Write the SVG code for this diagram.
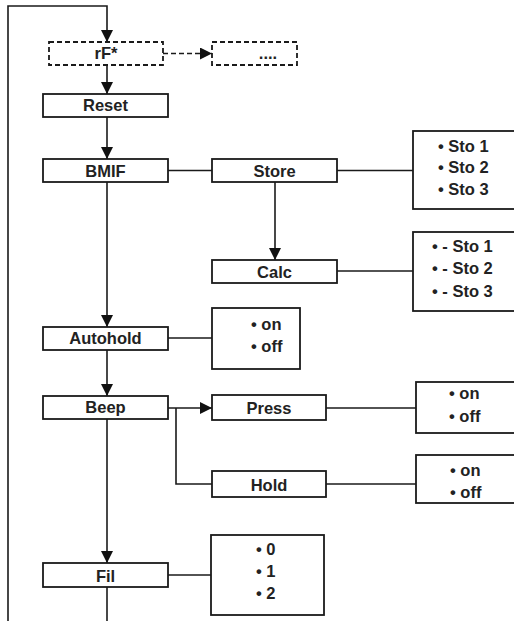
<svg xmlns="http://www.w3.org/2000/svg" width="514" height="621" viewBox="0 0 514 621">
<defs>
<style>
.box{fill:#fff;stroke:#1a1a1a;stroke-width:1.8}
.dbox{fill:#fff;stroke:#1a1a1a;stroke-width:1.8;stroke-dasharray:5 3}
.ln{fill:none;stroke:#1a1a1a;stroke-width:1.6}
.dln{fill:none;stroke:#1a1a1a;stroke-width:1.6;stroke-dasharray:5 3}
text{font-family:"Liberation Sans",Arial,sans-serif;font-weight:bold;font-size:16.5px;fill:#222}
.c{text-anchor:middle}
</style>
<marker id="ah" markerUnits="userSpaceOnUse" markerWidth="12" markerHeight="12" viewBox="0 0 12 12" refX="12" refY="6" orient="auto">
<path d="M0,0 L12,6 L0,12 Z" fill="#111"/>
</marker>
</defs>
<g id="connectors">
<path class="ln" d="M107,621 V587"/>
<path class="ln" d="M8,621 V6 H107 V42" marker-end="url(#ah)"/>
<path class="dln" d="M163,53.5 H212" marker-end="url(#ah)"/>
<path class="ln" d="M107,65 V94" marker-end="url(#ah)"/>
<path class="ln" d="M107,117 V159" marker-end="url(#ah)"/>
<path class="ln" d="M168,170.5 H212"/>
<path class="ln" d="M337,170.5 H413"/>
<path class="ln" d="M275,182 V260" marker-end="url(#ah)"/>
<path class="ln" d="M337,271 H413"/>
<path class="ln" d="M107,182 V327" marker-end="url(#ah)"/>
<path class="ln" d="M168,338 H212"/>
<path class="ln" d="M107,350 V396" marker-end="url(#ah)"/>
<path class="ln" d="M168,408 H212" marker-end="url(#ah)"/>
<path class="ln" d="M176,408 V484 H212"/>
<path class="ln" d="M326,408 H416"/>
<path class="ln" d="M326,484 H416"/>
<path class="ln" d="M107,419 V563" marker-end="url(#ah)"/>
<path class="ln" d="M168,575 H211"/>
</g>
<g id="rF">
<rect class="dbox" x="49" y="42" width="114" height="23"/>
<text class="c" x="106" y="59">rF*</text>
</g>
<g id="more">
<rect class="dbox" x="212" y="42" width="85" height="23"/>
<text class="c" x="268" y="59">....</text>
</g>
<g id="reset">
<rect class="box" x="43" y="94" width="125" height="23"/>
<text class="c" x="105.5" y="111">Reset</text>
</g>
<g id="bmif">
<rect class="box" x="43" y="159" width="125" height="23"/>
<text class="c" x="105.5" y="177">BMIF</text>
</g>
<g id="store">
<rect class="box" x="212" y="159" width="125" height="23"/>
<text class="c" x="274.5" y="177">Store</text>
</g>
<g id="store-list">
<rect class="box" x="413" y="131" width="110" height="78"/>
<text x="438" y="152">• Sto 1</text>
<text x="438" y="173">• Sto 2</text>
<text x="438" y="195">• Sto 3</text>
</g>
<g id="calc">
<rect class="box" x="212" y="260" width="125" height="23"/>
<text class="c" x="274.5" y="278">Calc</text>
</g>
<g id="calc-list">
<rect class="box" x="413" y="232" width="110" height="79"/>
<text x="432" y="252">• - Sto 1</text>
<text x="432" y="274">• - Sto 2</text>
<text x="432" y="297">• - Sto 3</text>
</g>
<g id="autohold">
<rect class="box" x="43" y="327" width="125" height="23"/>
<text class="c" x="105.5" y="344">Autohold</text>
</g>
<g id="autohold-list">
<rect class="box" x="212" y="308" width="88" height="61"/>
<text x="251" y="330">• on</text>
<text x="251" y="352">• off</text>
</g>
<g id="beep">
<rect class="box" x="43" y="396" width="125" height="23"/>
<text class="c" x="105.5" y="413">Beep</text>
</g>
<g id="press">
<rect class="box" x="212" y="395" width="114" height="25"/>
<text class="c" x="269" y="414">Press</text>
</g>
<g id="press-list">
<rect class="box" x="416" y="382" width="110" height="51"/>
<text x="449" y="399">• on</text>
<text x="449" y="422">• off</text>
</g>
<g id="hold">
<rect class="box" x="212" y="471" width="114" height="26"/>
<text class="c" x="269" y="491">Hold</text>
</g>
<g id="hold-list">
<rect class="box" x="416" y="455" width="110" height="48"/>
<text x="450" y="476">• on</text>
<text x="450" y="498">• off</text>
</g>
<g id="fil">
<rect class="box" x="43" y="563" width="125" height="24"/>
<text class="c" x="105.5" y="582">Fil</text>
</g>
<g id="fil-list">
<rect class="box" x="211" y="535" width="113" height="80"/>
<text x="256" y="555">• 0</text>
<text x="256" y="577">• 1</text>
<text x="256" y="599">• 2</text>
</g>
</svg>
